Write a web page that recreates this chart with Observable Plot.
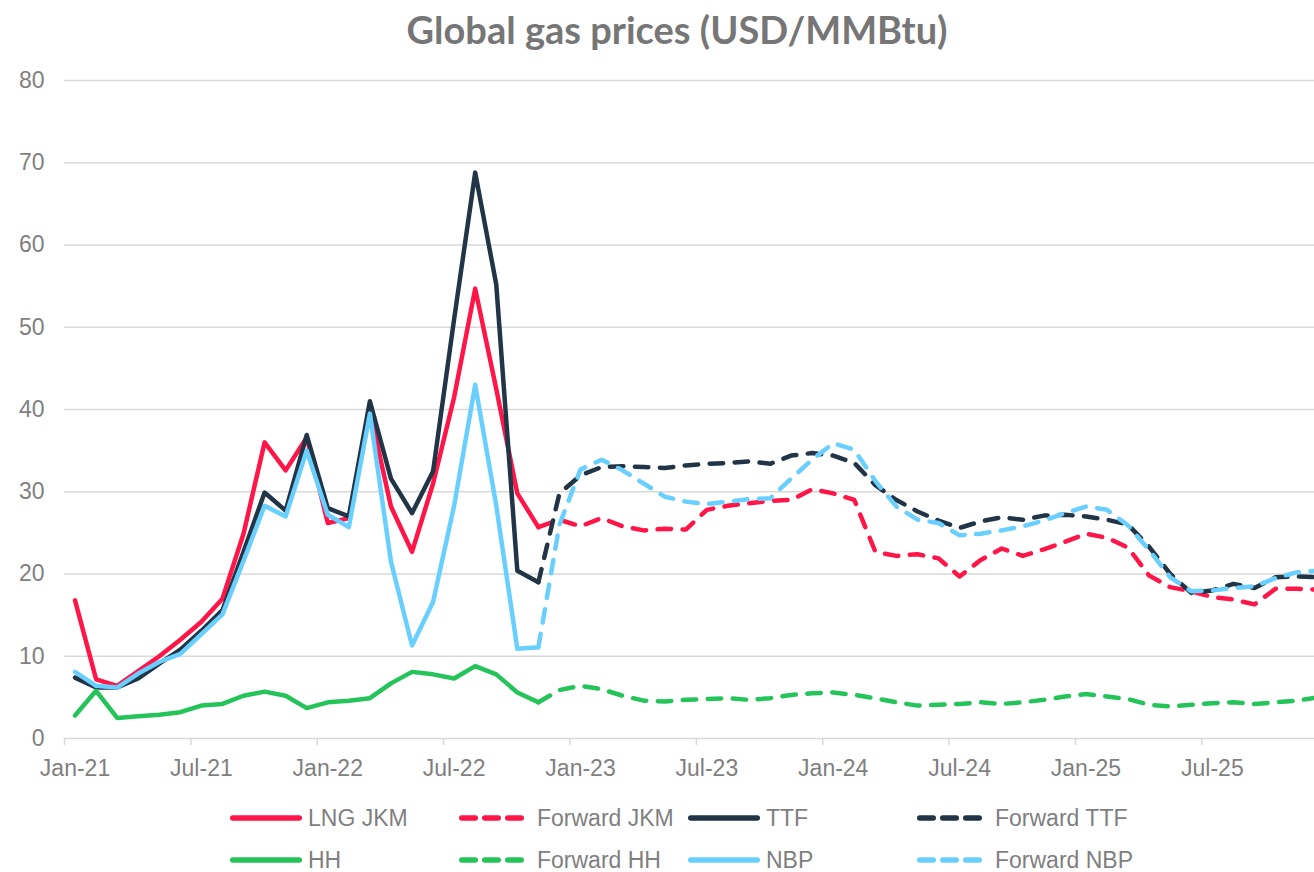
<!DOCTYPE html>
<html>
<head>
<meta charset="utf-8">
<script src="https://cdn.jsdelivr.net/npm/d3@7"></script>
<script src="https://cdn.jsdelivr.net/npm/@observablehq/plot@0.6"></script>
<style>
  body { margin: 0; background: #ffffff; }
  #page { position: relative; width: 1314px; height: 872px; overflow: hidden; background: #fff;
          font-family: "Liberation Sans", Arial, sans-serif; }
  #title { position: absolute; left: 40px; top: 0; width: 1274px; height: 60px; line-height: 58px;
           text-align: center; font-family: Lato, "Open Sans", sans-serif; font-weight: 700;
           font-size: 38px; color: #767676; }
  #chart { position: absolute; left: 0; top: 60px; }
  #legend { position: absolute; left: 230px; top: 797px; display: grid;
            grid-template-columns: repeat(4, 229px); grid-auto-rows: 42px; }
  .item { display: flex; align-items: center; gap: 6px; font-size: 23px; color: #7f7f7f; white-space: nowrap; }
  .item svg { flex: none; }
</style>
</head>
<body>
<div id="page">
  <div id="title">Global gas prices (USD/MMBtu)</div>
  <div id="chart"></div>
  <div id="legend"></div>
</div>
<script>
// ---- categories ----
const months = [
  "Jan-21","Feb-21","Mar-21","Apr-21","May-21","Jun-21","Jul-21","Aug-21","Sep-21","Oct-21","Nov-21","Dec-21",
  "Jan-22","Feb-22","Mar-22","Apr-22","May-22","Jun-22","Jul-22","Aug-22","Sep-22","Oct-22","Nov-22","Dec-22",
  "Jan-23","Feb-23","Mar-23","Apr-23","May-23","Jun-23","Jul-23","Aug-23","Sep-23","Oct-23","Nov-23","Dec-23",
  "Jan-24","Feb-24","Mar-24","Apr-24","May-24","Jun-24","Jul-24","Aug-24","Sep-24","Oct-24","Nov-24","Dec-24",
  "Jan-25","Feb-25","Mar-25","Apr-25","May-25","Jun-25","Jul-25","Aug-25","Sep-25","Oct-25","Nov-25","Dec-25"
];
const tickLabels = ["Jan-21","Jul-21","Jan-22","Jul-22","Jan-23","Jul-23","Jan-24","Jul-24","Jan-25","Jul-25"];
const yTicks = [0, 10, 20, 30, 40, 50, 60, 70, 80];

const historyStart = "Jan-21";
const forwardStart = "Nov-22";

// ---- series values (USD/MMBtu) ----
const lngJkm = [16.8, 7.2, 6.4, 8.2, 10.0, 12.0, 14.2, 17.0, 24.9, 36.0, 32.6, 36.6,
                26.2, 26.8, 39.8, 28.2, 22.7, 31.0, 41.5, 54.7, 42.5, 29.8, 25.7];
const forwardJkm = [25.7, 26.6, 25.8, 26.8, 25.8, 25.3, 25.5, 25.4, 27.8, 28.3, 28.6, 28.9, 29.0,
                    30.3, 29.8, 29.0, 22.7, 22.2, 22.4, 21.9, 19.7, 21.7, 23.1, 22.2, 23.0, 23.9,
                    24.9, 24.4, 23.2, 19.8, 18.4, 17.9, 17.2, 16.9, 16.3, 18.2, 18.2, 18.1];
const ttf = [7.4, 6.2, 6.2, 7.3, 9.1, 10.8, 13.1, 15.6, 22.7, 29.9, 27.7, 36.9,
             28.0, 27.0, 41.0, 31.6, 27.4, 32.5, 51.0, 68.8, 55.2, 20.4, 19.0];
const forwardTtf = [19.0, 29.8, 32.0, 33.0, 33.1, 33.0, 32.9, 33.2, 33.4, 33.5, 33.7, 33.4, 34.4,
                    34.7, 34.4, 33.5, 30.8, 29.0, 27.6, 26.5, 25.6, 26.4, 26.9, 26.6, 27.1, 27.2,
                    27.0, 26.6, 26.0, 23.3, 20.0, 17.7, 18.0, 18.8, 18.3, 19.6, 19.7, 19.6];
const hh = [2.8, 5.8, 2.5, 2.7, 2.9, 3.2, 4.0, 4.2, 5.2, 5.7, 5.2, 3.7,
            4.4, 4.6, 4.9, 6.7, 8.1, 7.8, 7.3, 8.8, 7.8, 5.6, 4.4];
const forwardHh = [4.4, 5.9, 6.4, 6.0, 5.2, 4.6, 4.5, 4.7, 4.8, 4.9, 4.7, 4.9, 5.3,
                   5.5, 5.6, 5.3, 4.9, 4.4, 4.0, 4.1, 4.2, 4.4, 4.2, 4.4, 4.7, 5.1,
                   5.4, 5.1, 4.8, 4.1, 3.9, 4.1, 4.3, 4.4, 4.2, 4.4, 4.6, 5.0];
const nbp = [8.1, 6.4, 6.2, 7.9, 9.3, 10.3, 12.7, 15.1, 21.6, 28.3, 27.0, 35.0,
             27.2, 25.7, 39.5, 21.5, 11.3, 16.6, 28.3, 43.0, 28.3, 10.9, 11.1];
const forwardNbp = [11.1, 26.0, 32.7, 33.9, 32.6, 31.0, 29.4, 28.8, 28.5, 28.8, 29.1, 29.2, 31.6,
                    33.9, 35.9, 35.1, 31.3, 28.2, 26.6, 26.2, 24.7, 24.9, 25.3, 25.8, 26.5, 27.4,
                    28.2, 27.8, 25.9, 22.9, 19.6, 17.9, 18.0, 18.3, 18.5, 19.5, 20.2, 20.4];

// ---- styling ----
const RED = "#FF1547", NAVY = "#213547", GREEN = "#25C45A", BLUE = "#69CFFF";
const DASH = "13.5 11.5";

const series = [
  {name: "LNG JKM",     values: lngJkm,     start: historyStart, color: RED,   dashed: false},
  {name: "Forward JKM", values: forwardJkm, start: forwardStart, color: RED,   dashed: true},
  {name: "TTF",         values: ttf,        start: historyStart, color: NAVY,  dashed: false},
  {name: "Forward TTF", values: forwardTtf, start: forwardStart, color: NAVY,  dashed: true},
  {name: "HH",          values: hh,         start: historyStart, color: GREEN, dashed: false},
  {name: "Forward HH",  values: forwardHh,  start: forwardStart, color: GREEN, dashed: true},
  {name: "NBP",         values: nbp,        start: historyStart, color: BLUE,  dashed: false},
  {name: "Forward NBP", values: forwardNbp, start: forwardStart, color: BLUE,  dashed: true}
];

// rows: month index (category centre = index + 0.5)
function rowsOf(s) {
  const i0 = months.indexOf(s.start);
  return s.values.map((v, i) => ({month: months[i0 + i], x: i0 + i + 0.5, v}));
}

const tickPositions = tickLabels.map(l => months.indexOf(l));
const labelPositions = tickLabels.map(l => months.indexOf(l) + 0.5);

const lineMarks = series.map(s => Plot.line(rowsOf(s), {
  x: "x", y: "v", stroke: s.color, strokeWidth: 4.5,
  strokeDasharray: s.dashed ? DASH : null,
  strokeLinecap: "round", strokeLinejoin: "round", clip: true
}));

const chart = Plot.plot({
  width: 1314, height: 730,
  marginLeft: 64, marginRight: 0, marginTop: 20, marginBottom: 52,
  x: {type: "linear", domain: [0, 59.35], axis: null, label: null},
  y: {domain: [0, 80], axis: null, label: null},
  style: {fontFamily: "'Liberation Sans', Arial, sans-serif", fontSize: "23px", color: "#7f7f7f", background: "#fff"},
  marks: [
    Plot.gridY(yTicks, {stroke: "#d9d9d9", strokeOpacity: 1, strokeWidth: 1.5}),
    Plot.axisY(yTicks, {label: null, tickSize: 0, tickPadding: 20, fontSize: 23, fill: "#7f7f7f", tickFormat: d => String(d)}),
    Plot.axisX(tickPositions, {label: null, tickSize: 7, text: null, stroke: "#d9d9d9", strokeWidth: 1.5}),
    Plot.axisX(labelPositions, {label: null, tickSize: 0, tickPadding: 21, fontSize: 23, fill: "#7f7f7f",
                                tickFormat: d => months[Math.floor(d)]}),
    ...lineMarks
  ]
});
document.getElementById("chart").appendChild(chart);

// ---- legend ----
const legend = document.getElementById("legend");
series.forEach(s => {
  const item = document.createElement("div");
  item.className = "item";
  const dash = s.dashed ? ' stroke-dasharray="13.5 9.5"' : "";
  item.innerHTML = `<svg width="72" height="14"><line x1="2.75" y1="7" x2="69.25" y2="7" stroke="${s.color}" stroke-width="5.5" stroke-linecap="round"${dash}/></svg><span>${s.name}</span>`;
  legend.appendChild(item);
});
</script>
</body>
</html>
